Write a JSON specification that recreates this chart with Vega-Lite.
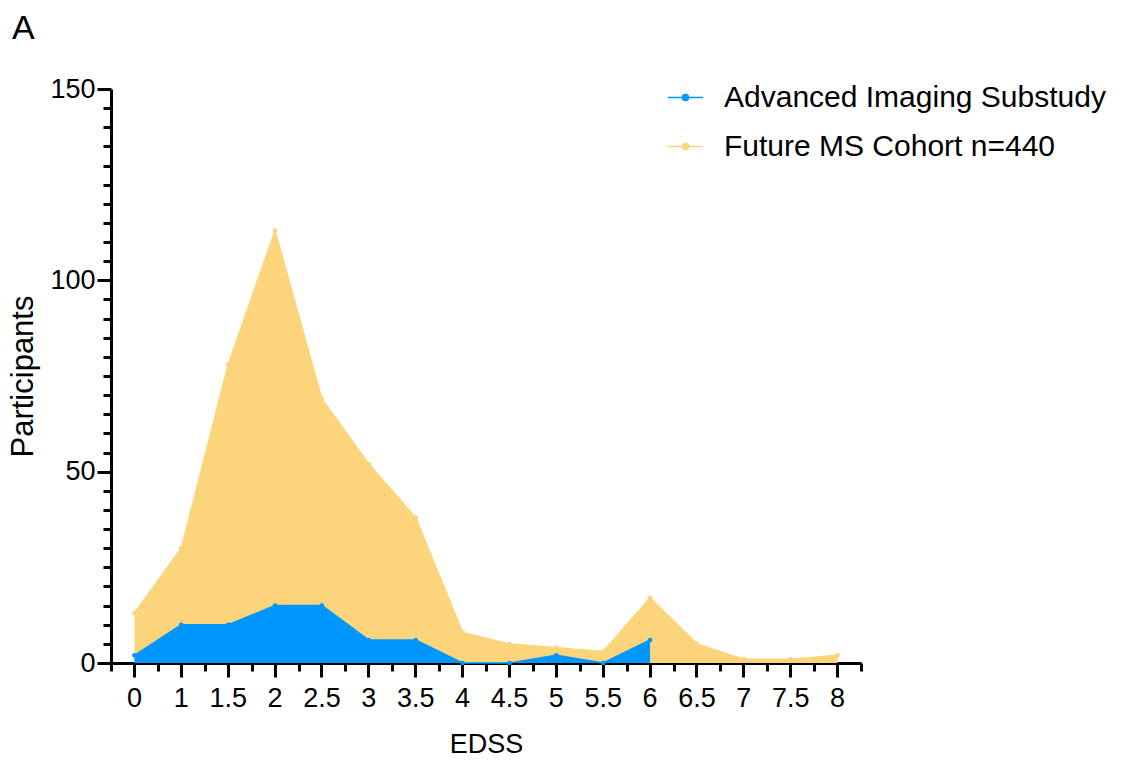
{
  "$schema": "https://vega.github.io/schema/vega-lite/v6.json",
  "width": 750,
  "height": 574,
  "autosize": {"type": "none"},
  "padding": {"left": 111, "top": 89, "right": 260, "bottom": 101},
  "background": "white",
  "title": {"text": "A", "anchor": "start", "frame": "group", "fontSize": 34, "font": "Liberation Sans", "fontWeight": "normal", "color": "black", "dx": -99, "baseline": "alphabetic", "offset": 2},
  "config": {
    "font": "Liberation Sans",
    "view": {"stroke": null},
    "axis": {
      "domainColor": "black", "domainWidth": 3, "tickColor": "black", "tickWidth": 3,
      "labelColor": "black", "titleColor": "black", "labelFont": "Liberation Sans", "titleFont": "Liberation Sans",
      "labelFontSize": 27, "titleFontSize": 27, "titleFontWeight": "normal", "grid": false, "labelOverlap": false
    }
  },
  "data": {"values": [
    {"EDSS": 0, "series": "Future MS Cohort n=440", "n": 13},
    {"EDSS": 1, "series": "Future MS Cohort n=440", "n": 30},
    {"EDSS": 1.5, "series": "Future MS Cohort n=440", "n": 78},
    {"EDSS": 2, "series": "Future MS Cohort n=440", "n": 113},
    {"EDSS": 2.5, "series": "Future MS Cohort n=440", "n": 69},
    {"EDSS": 3, "series": "Future MS Cohort n=440", "n": 52},
    {"EDSS": 3.5, "series": "Future MS Cohort n=440", "n": 38},
    {"EDSS": 4, "series": "Future MS Cohort n=440", "n": 8},
    {"EDSS": 4.5, "series": "Future MS Cohort n=440", "n": 5},
    {"EDSS": 5, "series": "Future MS Cohort n=440", "n": 4},
    {"EDSS": 5.5, "series": "Future MS Cohort n=440", "n": 3},
    {"EDSS": 6, "series": "Future MS Cohort n=440", "n": 17},
    {"EDSS": 6.5, "series": "Future MS Cohort n=440", "n": 5},
    {"EDSS": 7, "series": "Future MS Cohort n=440", "n": 1},
    {"EDSS": 7.5, "series": "Future MS Cohort n=440", "n": 1},
    {"EDSS": 8, "series": "Future MS Cohort n=440", "n": 2},
    {"EDSS": 0, "series": "Advanced Imaging Substudy", "n": 2},
    {"EDSS": 1, "series": "Advanced Imaging Substudy", "n": 10},
    {"EDSS": 1.5, "series": "Advanced Imaging Substudy", "n": 10},
    {"EDSS": 2, "series": "Advanced Imaging Substudy", "n": 15},
    {"EDSS": 2.5, "series": "Advanced Imaging Substudy", "n": 15},
    {"EDSS": 3, "series": "Advanced Imaging Substudy", "n": 6},
    {"EDSS": 3.5, "series": "Advanced Imaging Substudy", "n": 6},
    {"EDSS": 4, "series": "Advanced Imaging Substudy", "n": 0},
    {"EDSS": 4.5, "series": "Advanced Imaging Substudy", "n": 0},
    {"EDSS": 5, "series": "Advanced Imaging Substudy", "n": 2},
    {"EDSS": 5.5, "series": "Advanced Imaging Substudy", "n": 0},
    {"EDSS": 6, "series": "Advanced Imaging Substudy", "n": 6}
  ]},
  "encoding": {
    "color": {"field": "series", "type": "nominal",
              "scale": {"domain": ["Advanced Imaging Substudy", "Future MS Cohort n=440"], "range": ["#0096FF", "#FCD47C"]},
              "legend": {"orient": "none", "legendX": 556, "legendY": -10, "title": null,
                         "labelFontSize": 30, "labelColor": "black", "labelFont": "Liberation Sans", "labelLimit": 600,
                         "symbolType": "M-1,0H1M0.17,0A0.17,0.17,0,1,1,-0.17,0A0.17,0.17,0,1,1,0.17,0Z",
                         "symbolSize": 1225, "symbolStrokeWidth": 1.5, "rowPadding": 15, "labelOffset": 20,
                         "encode": {"symbols": {"update": {"fill": {"scale": "color", "field": "value"}, "stroke": {"scale": "color", "field": "value"}, "strokeWidth": {"value": 1.5}, "opacity": {"value": 1}}}}}}
  },
  "layer": [
    {
      "transform": [{"filter": "datum.series === 'Future MS Cohort n=440'"}],
      "mark": {"type": "area", "opacity": 1, "line": {"strokeWidth": 1.5}, "point": {"size": 22, "filled": true, "opacity": 1}},
      "encoding": {
        "x": {"field": "EDSS", "type": "ordinal", "bandPosition": 0.5,
              "scale": {"type": "band", "paddingInner": 0, "paddingOuter": 0},
              "axis": {"orient": "bottom", "tickBand": "center", "tickSize": 14, "labelAngle": 0, "labelPadding": 8, "title": "EDSS", "titlePadding": 20}},
        "y": {"field": "n", "type": "quantitative", "stack": null,
              "scale": {"domain": [0, 150], "nice": false},
              "axis": {"orient": "left", "values": [0, 50, 100, 150], "tickSize": 14,
                       "labelPadding": 2, "title": "Participants", "titleFontSize": 31, "titlePadding": 10}}
      }
    },
    {
      "transform": [{"filter": "datum.series === 'Advanced Imaging Substudy'"}],
      "mark": {"type": "area", "opacity": 1, "line": {"strokeWidth": 1.5}, "point": {"size": 22, "filled": true, "opacity": 1}},
      "encoding": {
        "x": {"field": "EDSS", "type": "ordinal", "bandPosition": 0.5,
              "axis": {"orient": "bottom", "tickBand": "extent", "tickSize": 8, "labels": false, "domain": false, "title": null}},
        "y": {"field": "n", "type": "quantitative", "stack": null,
              "axis": {"orient": "left", "values": [5,10,15,20,25,30,35,40,45,55,60,65,70,75,80,85,90,95,105,110,115,120,125,130,135,140,145],
                       "tickSize": 8, "labels": false, "domain": false, "title": null}}
      }
    }
  ],
  "resolve": {"axis": {"x": "independent", "y": "independent"}}
}
